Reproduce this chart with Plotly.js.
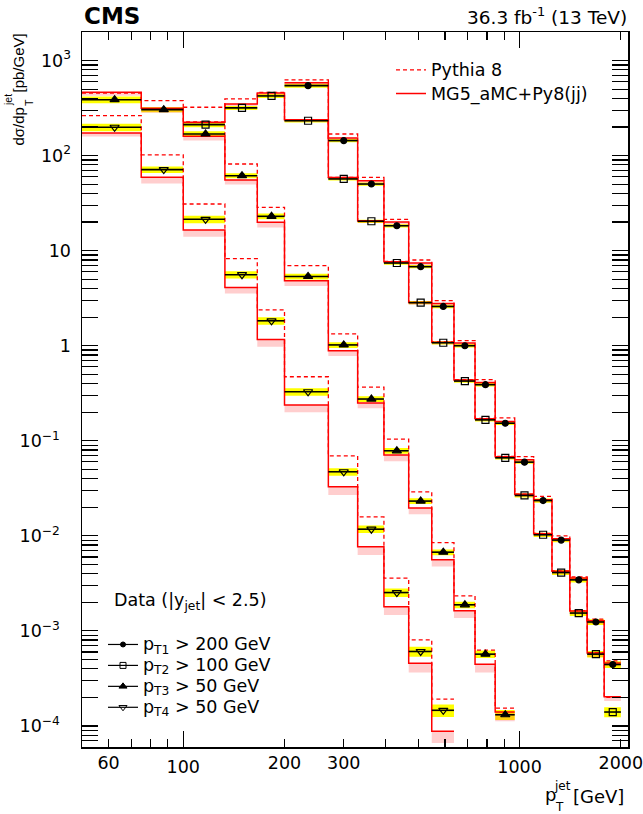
<!DOCTYPE html>
<html>
<head>
<meta charset="utf-8">
<script src="https://cdn.plot.ly/plotly-3.0.1.min.js"></script>
<style>html,body{margin:0;padding:0;background:#fff;}</style>
</head>
<body>
<div id="chart" style="width:643px;height:814px;"></div>
<script>
// ---------------- DATA ----------------
const binEdges = [50, 75, 100, 133, 166, 200, 270, 330, 395, 468, 548, 638, 737, 846, 967, 1101, 1248, 1410, 1588, 1784, 2000];

// pT1 > 200 GeV (filled circles), first bin 200-270
const circleFirstBin = 5;
const circleData   = [545, 144, 50.3, 18.3, 6.79, 2.59, 1.0, 0.389, 0.153, 0.0596, 0.0235, 0.00902, 0.00344, 0.00124, 4.43e-4];
const circleUnc    = [0.05, 0.04, 0.04, 0.04, 0.04, 0.04, 0.04, 0.04, 0.04, 0.04, 0.05, 0.05, 0.06, 0.07, 0.08];
const circlePythia = [627, 169, 59, 21.4, 7.98, 2.98, 1.13, 0.439, 0.174, 0.068, 0.026, 0.0100, 0.0037, 0.00133, 4.83e-4];
const circleMG5    = [586, 153.6, 54.6, 20.0, 7.42, 2.79, 1.07, 0.41, 0.16, 0.063, 0.024, 0.0093, 0.0036, 0.00128, 4.6e-4];
const circleMG5Band= [0.05, 0.05, 0.05, 0.05, 0.05, 0.05, 0.05, 0.05, 0.05, 0.05, 0.06, 0.06, 0.07, 0.08, 0.08];

// pT2 > 100 GeV (open squares), first bin 100-133
const squareFirstBin = 2;
const squareData   = [212, 318, 425, 233, 56.9, 20.4, 7.42, 2.84, 1.075, 0.425, 0.166, 0.0662, 0.0266, 0.01026, 0.00411, 0.00154, 5.69e-4, 1.40e-4];
const squareUnc    = [0.06, 0.05, 0.05, 0.04, 0.04, 0.04, 0.04, 0.04, 0.04, 0.04, 0.04, 0.04, 0.05, 0.05, 0.06, 0.07, 0.08, 0.12];
const squarePythia = [323, 395, 464, 235, 59.2, 20.7, 7.7, 2.86, 1.10, 0.439, 0.172, 0.0684, 0.0275, 0.0106, 0.00428, 0.00163, 5.9e-4, 2.0e-4];
const squareMG5    = [224, 350, 455, 238, 59.0, 20.6, 7.65, 2.85, 1.09, 0.436, 0.171, 0.068, 0.0273, 0.0105, 0.00425, 0.00162, 5.85e-4, 2.03e-4];
const squareMG5Band= [0.06, 0.05, 0.05, 0.05, 0.05, 0.05, 0.05, 0.05, 0.05, 0.05, 0.05, 0.05, 0.06, 0.06, 0.07, 0.08, 0.09, 0.10];

// pT3 > 50 GeV (filled triangles), first bin 50-75
const triangleFirstBin = 0;
const triangleData   = [388, 305, 169, 61.5, 23.0, 5.36, 1.02, 0.275, 0.0785, 0.0232, 0.00673, 0.00188, 5.69e-4, 1.31e-4];
const triangleUnc    = [0.08, 0.06, 0.07, 0.06, 0.07, 0.07, 0.07, 0.07, 0.07, 0.07, 0.07, 0.08, 0.09, 0.12];
const trianglePythia = [455, 379, 226, 81.7, 28.6, 6.95, 1.33, 0.367, 0.104, 0.029, 0.0085, 0.00234, 6.27e-4, 1.54e-4];
const triangleMG5    = [464, 315, 160, 55.4, 19.9, 4.83, 0.886, 0.25, 0.0707, 0.0196, 0.00559, 0.00163, 4.46e-4, 1.40e-4];
const triangleMG5Band= [0.08, 0.10, 0.10, 0.10, 0.12, 0.12, 0.12, 0.12, 0.14, 0.14, 0.15, 0.16, 0.18, 0.20];

// pT4 > 50 GeV (open inverted triangles), first bin 50-75
const nablaFirstBin = 0;
const nablaData   = [199, 71.3, 21.4, 5.59, 1.83, 0.328, 0.0472, 0.01175, 0.00253, 6.07e-4, 1.46e-4];
const nablaUnc    = [0.09, 0.08, 0.09, 0.09, 0.09, 0.09, 0.09, 0.09, 0.10, 0.12, 0.15];
const nablaPythia = [264, 102, 31.0, 8.24, 2.38, 0.472, 0.0695, 0.0158, 0.00359, 8.04e-4, 1.91e-4];
const nablaMG5    = [173, 59.2, 16.5, 4.11, 1.16, 0.238, 0.0328, 0.00766, 0.00179, 4.57e-4, 8.8e-5];
const nablaMG5Band= [0.08, 0.14, 0.15, 0.14, 0.16, 0.16, 0.18, 0.18, 0.18, 0.20, 0.25];

const legendLabels = ['p<sub>T1</sub> &gt; 200 GeV', 'p<sub>T2</sub> &gt; 100 GeV', 'p<sub>T3</sub> &gt; 50 GeV', 'p<sub>T4</sub> &gt; 50 GeV'];
const xTickLong   = [100, 1000];
const xTickShortLabelled = [60, 200, 300, 2000];
const yTickVals   = [1e-4, 1e-3, 1e-2, 1e-1, 1, 10, 100, 1000];
const yTickText   = ['10<sup>\u22124</sup>&nbsp;&nbsp;', '10<sup>\u22123</sup>&nbsp;&nbsp;', '10<sup>\u22122</sup>&nbsp;&nbsp;', '10<sup>\u22121</sup>&nbsp;&nbsp;', '1', '10', '10<sup>2</sup>', '10<sup>3</sup>'];

// ---------------- HELPERS ----------------
const series = [
  {first: circleFirstBin,   data: circleData,   unc: circleUnc,   py: circlePythia,   mg: circleMG5,   band: circleMG5Band,   sym: 'circle',            size: 6},
  {first: squareFirstBin,   data: squareData,   unc: squareUnc,   py: squarePythia,   mg: squareMG5,   band: squareMG5Band,   sym: 'square-open',       size: 7},
  {first: triangleFirstBin, data: triangleData, unc: triangleUnc, py: trianglePythia, mg: triangleMG5, band: triangleMG5Band, sym: 'triangle-up',       size: 8},
  {first: nablaFirstBin,    data: nablaData,    unc: nablaUnc,    py: nablaPythia,    mg: nablaMG5,    band: nablaMG5Band,    sym: 'triangle-down-open',size: 8}
];
function step(first, vals) {
  const x = [], y = [];
  vals.forEach((v, i) => { x.push(binEdges[first + i], binEdges[first + i + 1]); y.push(v, v); });
  return {x, y};
}
function boxes(first, lo, hi) {
  const x = [], y = [];
  lo.forEach((l, i) => {
    const a = binEdges[first + i], b = binEdges[first + i + 1], h = hi[i];
    x.push(a, b, b, a, a, null); y.push(l, l, h, h, l, null);
  });
  return {x, y};
}
const font = 'DejaVu Sans, Arial, sans-serif';
const big = t => '<span style="font-size:17.5px">' + t + '</span>';

const traces = [];
// yellow data uncertainty boxes
series.forEach(s => {
  const b = boxes(s.first, s.data.map((v, i) => v * (1 - s.unc[i])), s.data.map((v, i) => v * (1 + s.unc[i])));
  traces.push({x: b.x, y: b.y, mode: 'lines', fill: 'toself', fillcolor: '#ffff00', line: {width: 0, color: 'rgba(0,0,0,0)'}, showlegend: false, hoverinfo: 'skip'});
});
// MG5 pink uncertainty bands
series.forEach(s => {
  const b = boxes(s.first, s.mg.map((v, i) => v * (1 - s.band[i])), s.mg);
  traces.push({x: b.x, y: b.y, mode: 'lines', fill: 'toself', fillcolor: 'rgba(255,60,60,0.25)', line: {width: 0, color: 'rgba(0,0,0,0)'}, showlegend: false, hoverinfo: 'skip'});
});
// Pythia dashed
series.forEach((s, k) => {
  const st = step(s.first, s.py);
  traces.push({x: st.x, y: st.y, mode: 'lines', name: big('Pythia 8'), line: {color: '#ff0000', width: 1.3, dash: '4px,3px'}, showlegend: k === 0, legend: 'legend', hoverinfo: 'skip'});
});
// MG5 solid
series.forEach((s, k) => {
  const st = step(s.first, s.mg);
  traces.push({x: st.x, y: st.y, mode: 'lines', name: big('MG5_aMC+Py8(jj)'), line: {color: '#ff0000', width: 1.5}, showlegend: k === 0, legend: 'legend', hoverinfo: 'skip'});
});
// data points
series.forEach(s => {
  const lo = s.data.map((v, i) => binEdges[s.first + i]);
  const hi = s.data.map((v, i) => binEdges[s.first + i + 1]);
  const c = lo.map((l, i) => (l + hi[i]) / 2);
  traces.push({x: c, y: s.data, mode: 'markers', showlegend: false, hoverinfo: 'x+y',
    marker: {symbol: s.sym, size: s.size, color: 'black', line: {color: 'black', width: 1.2}},
    error_x: {type: 'data', symmetric: false, array: c.map((v, i) => hi[i] - v), arrayminus: c.map((v, i) => v - lo[i]), width: 0, thickness: 1.6, color: 'black'}});
});
// legend entries for data (no data, legend only)
series.forEach((s, k) => {
  traces.push({x: [null], y: [null], mode: 'lines+markers', name: big(legendLabels[k]), legend: 'legend2',
    line: {color: 'black', width: 1.2}, marker: {symbol: s.sym, size: s.size - 1, color: 'black', line: {color: 'black', width: 1}}});
});
// dummy for overlay axis
traces.push({x: [null], y: [null], xaxis: 'x2', yaxis: 'y', mode: 'markers', showlegend: false, hoverinfo: 'skip'});

// ---------------- LAYOUT ----------------
const L = 82, R = 628, T = 32, B = 747, W = R - L, H = B - T;
const PX = X => (X - L) / W, PY = Y => (B - Y) / H;
const xr = [Math.log10(50), Math.log10(2100)];
const yr = [Math.log10(6e-5), Math.log10(2000)];
const xMinor = [60, 70, 80, 90, 200, 300, 400, 500, 600, 700, 800, 900, 2000];
const yMinor = [];
for (let e = -5; e <= 3; e++) for (let d = 2; d <= 9; d++) { const v = d * Math.pow(10, e); if (v > 6e-5 && v < 2000) yMinor.push(v); }
const axisCommon = {showgrid: false, zeroline: false, showline: true, linecolor: 'black', linewidth: 1.5, mirror: 'allticks', ticks: 'inside', tickcolor: 'black', tickwidth: 1.2, tickfont: {family: font, size: 17.5, color: 'black'}};

const ann = (text, X, Y, o) => Object.assign({text, xref: 'paper', yref: 'paper', x: PX(X), y: PY(Y), showarrow: false, font: {family: font, size: 18, color: 'black'}, xanchor: 'center', yanchor: 'middle'}, o || {});
const yFont = {family: 'Liberation Sans, Arial, sans-serif', size: 15, color: 'black'};
const ySmall = {family: 'Liberation Sans, Arial, sans-serif', size: 10.5, color: 'black'};

const layout = {
  width: 643, height: 814,
  margin: {l: L, r: 643 - R, t: T, b: 814 - B, pad: 0},
  paper_bgcolor: 'white', plot_bgcolor: 'white',
  font: {family: font, size: 17.5, color: 'black'},
  xaxis: Object.assign({}, axisCommon, {type: 'log', range: xr, tickmode: 'array', tickvals: xTickLong, ticktext: xTickLong.map(String), ticklen: 16, ticklabelstandoff: 3, ticklabeloverflow: 'allow',
    minor: {tickmode: 'array', tickvals: xMinor, ticks: 'inside', ticklen: 8, tickwidth: 1.2, tickcolor: 'black', showgrid: false}}),
  xaxis2: {overlaying: 'x', anchor: 'y', side: 'bottom', type: 'log', range: xr, tickmode: 'array', tickvals: xTickShortLabelled, ticktext: xTickShortLabelled.map(String), ticks: '', showline: false, showgrid: false, zeroline: false, ticklabelstandoff: 3, ticklabeloverflow: 'allow', tickfont: {family: font, size: 17.5, color: 'black'}},
  yaxis: Object.assign({}, axisCommon, {type: 'log', range: yr, tickmode: 'array', tickvals: yTickVals, ticktext: yTickText, ticklen: 16, ticklabelstandoff: 6, ticklabeloverflow: 'allow',
    minor: {tickmode: 'array', tickvals: yMinor, ticks: 'inside', ticklen: 9, tickwidth: 1.2, tickcolor: 'black', showgrid: false}}),
  legend: {x: PX(391), y: PY(53), xanchor: 'left', yanchor: 'top', bgcolor: 'rgba(0,0,0,0)', borderwidth: 0, font: {family: font, size: 15.9, color: 'black'}, itemwidth: 30, tracegroupgap: 0},
  legend2: {x: PX(103), y: PY(629), xanchor: 'left', yanchor: 'top', bgcolor: 'rgba(0,0,0,0)', borderwidth: 0, font: {family: font, size: 13.8, color: 'black'}, itemwidth: 30, tracegroupgap: 0},
  annotations: [
    ann('<b>CMS</b>', 82, 16, {xanchor: 'left', font: {family: 'DejaVu Sans, Arial', size: 23, color: 'black'}}),
    ann('36.3 fb<sup>-1</sup> (13 TeV)', 629, 16, {xanchor: 'right', font: {family: font, size: 18.5, color: 'black'}}),
    // x-axis title p_T^jet [GeV]
    ann('p', 543, 795, {xanchor: 'left'}),
    ann('jet', 562, 786, {font: {family: font, size: 12, color: 'black'}}),
    ann('T', 559, 807, {font: {family: font, size: 12, color: 'black'}}),
    ann('[GeV]', 626, 796, {xanchor: 'right'}),
    // y-axis title dσ/dp_T^jet [pb/GeV]
    ann('[pb/GeV]', 17.5, 63, {textangle: -90, font: yFont}),
    ann('jet', 8, 100, {textangle: -90, font: ySmall}),
    ann('T', 29, 103, {textangle: -90, font: ySmall}),
    ann('d\u03c3/dp', 17.5, 127, {textangle: -90, font: yFont}),
    // data legend header
    ann('Data (|y<sub>jet</sub>| &lt; 2.5)', 112, 601, {xanchor: 'left', font: {family: font, size: 17.5, color: 'black'}})
  ]
};

Plotly.newPlot('chart', traces, layout, {displayModeBar: false, staticPlot: true});
</script>
</body>
</html>
